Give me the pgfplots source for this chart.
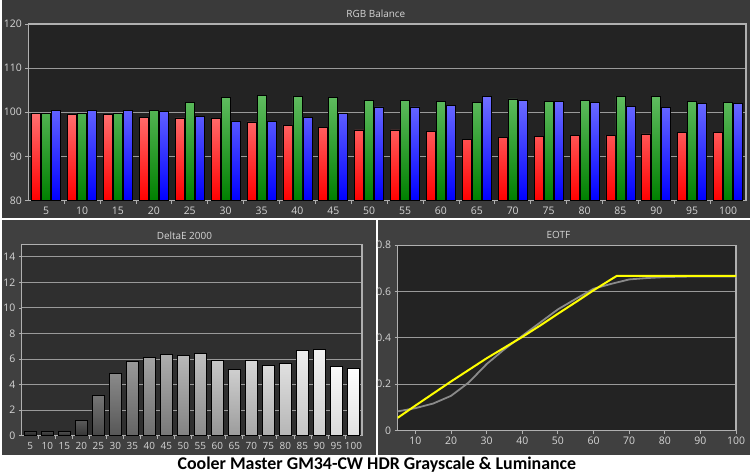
\documentclass[border=0pt]{standalone}
\usepackage{pgfplots}
\usepackage{pgfplotstable}
\pgfplotsset{compat=1.18}
\usepackage{fontspec}
\setmainfont{Open Sans}
\newfontfamily\capfont{Carlito}

\definecolor{topbg}{HTML}{3A3A3A}
\definecolor{botbg}{HTML}{404040}
\definecolor{plotbg}{HTML}{232323}
\definecolor{plotde}{HTML}{2F2F2F}
\definecolor{axisc}{HTML}{B0B0B0}
\definecolor{gridc}{HTML}{9A9A9A}
\definecolor{tickc}{HTML}{D6D6D6}
\definecolor{redtop}{HTML}{FF7070}
\definecolor{redbot}{HTML}{FF0000}
\definecolor{greentop}{HTML}{60BC60}
\definecolor{greenbot}{HTML}{008000}
\definecolor{bluetop}{HTML}{7070FF}
\definecolor{bluebot}{HTML}{0000FF}
\definecolor{eotfgray}{HTML}{8A8A8A}
\definecolor{eotfyellow}{HTML}{FFFF00}

% RGB balance, x = step index (5% steps)
\pgfplotstableread{
x R G B
1 99.8 99.7 100.5
2 99.5 99.7 100.5
3 99.5 99.7 100.5
4 98.9 100.5 100.2
5 98.7 102.3 99.1
6 98.5 103.4 97.9
7 97.8 103.8 97.9
8 97.1 103.6 98.9
9 96.6 103.4 99.7
10 96.0 102.7 101.2
11 96.0 102.7 101.2
12 95.7 102.4 101.5
13 93.9 102.2 103.6
14 94.2 103.0 102.7
15 94.6 102.4 102.4
16 94.8 102.7 102.2
17 94.8 103.6 101.3
18 95.1 103.6 101.1
19 95.5 102.4 102.0
20 95.5 102.2 102.0
}\rgbdata

\pgfplotsset{
  panel/.style={
    scale only axis, anchor=south west,
    axis line style={draw=axisc, line width=1.2bp},
    tick style={draw=axisc, line width=0.8bp},
    tick align=outside, xtick pos=bottom, ytick pos=left,
    major tick length=3bp, minor tick length=3bp,
    tick label style={font=\fontsize{10.5}{12}\selectfont, text=tickc},
    ymajorgrids, grid style={draw=gridc, line width=1bp},
    /pgf/number format/assume math mode=true,
  },
  db/.style 2 args={bar shift=0pt, draw=black, line width=0.8bp,
    top color=white!#1!black, bottom color=white!#2!black},
}

\begin{document}
\begin{tikzpicture}
\fill[white] (0bp,0bp) rectangle (750bp,476bp);
\fill[topbg] (0bp,257.5bp) rectangle (750bp,476bp);
\fill[botbg] (0bp,20bp) rectangle (375bp,255bp);
\fill[botbg] (377.5bp,20bp) rectangle (750bp,255bp);

% RGB Balance
\begin{axis}[panel, at={(26.5bp,275bp)}, width=719.5bp, height=177bp,
  axis background/.style={fill=plotbg},
  xmin=0.5, xmax=20.5, ymin=0, ymax=40,
  y filter/.expression={y-80},
  xtick={1,...,20},
  xticklabels={5,10,15,20,25,30,35,40,45,50,55,60,65,70,75,80,85,90,95,100},
  major x tick style={draw=none},
  minor xtick={1.5,2.5,...,19.5},
  ytick={0,10,20,30,40}, yticklabels={80,90,100,110,120},
  ybar=1bp, bar width=9bp,
]
\addplot[draw=black, line width=0.7bp, top color=redtop, bottom color=redbot] table[x=x,y=R]{\rgbdata};
\addplot[draw=black, line width=0.7bp, top color=greentop, bottom color=greenbot] table[x=x,y=G]{\rgbdata};
\addplot[draw=black, line width=0.7bp, top color=bluetop, bottom color=bluebot] table[x=x,y=B]{\rgbdata};
\end{axis}

% DeltaE 2000
\begin{axis}[panel, at={(20bp,39.3bp)}, width=341bp, height=192bp,
  axis background/.style={fill=plotde},
  xmin=0.5, xmax=20.5, ymin=0, ymax=15,
  xtick={1,...,20},
  xticklabels={5,10,15,20,25,30,35,40,45,50,55,60,65,70,75,80,85,90,95,100},
  xticklabel style={font=\fontsize{10}{11}\selectfont},
  major x tick style={draw=none},
  minor xtick={1.5,2.5,...,19.5},
  ytick={0,2,...,14},
  ybar, bar width=12.5bp,
]
\addplot[db={25}{14}] coordinates {(1,0.31)};
\addplot[db={28}{16}] coordinates {(2,0.31)};
\addplot[db={31}{18}] coordinates {(3,0.31)};
\addplot[db={35}{21}] coordinates {(4,1.18)};
\addplot[db={46}{28}] coordinates {(5,3.17)};
\addplot[db={54}{34}] coordinates {(6,4.87)};
\addplot[db={60}{39}] coordinates {(7,5.81)};
\addplot[db={64}{43}] coordinates {(8,6.12)};
\addplot[db={68}{47}] coordinates {(9,6.36)};
\addplot[db={72}{51}] coordinates {(10,6.28)};
\addplot[db={75}{54}] coordinates {(11,6.44)};
\addplot[db={78}{58}] coordinates {(12,5.89)};
\addplot[db={81}{61}] coordinates {(13,5.18)};
\addplot[db={84}{65}] coordinates {(14,5.89)};
\addplot[db={86}{68}] coordinates {(15,5.50)};
\addplot[db={88}{71}] coordinates {(16,5.65)};
\addplot[db={93}{77}] coordinates {(17,6.67)};
\addplot[db={95}{80}] coordinates {(18,6.75)};
\addplot[db={98}{85}] coordinates {(19,5.42)};
\addplot[db={100}{88}] coordinates {(20,5.26)};
\end{axis}

% EOTF
\begin{axis}[panel, at={(396.7bp,44.3bp)}, width=339.3bp, height=186bp,
  axis background/.style={fill=plotbg},
  xmin=5, xmax=100, ymin=0, ymax=0.8,
  xtick={10,20,...,100},
  ytick={0,0.2,0.4,0.6,0.8}, yticklabels={0,0.2,0.4,0.6,0.8},
]
\addplot[eotfgray, line width=1.8bp, mark=none] coordinates {
  (5,0.083) (10,0.097) (15,0.117) (20,0.150) (25,0.208) (30,0.287)
  (35,0.351) (40,0.409) (45,0.466) (50,0.523) (55,0.568) (60,0.612)
  (65,0.633) (70,0.652) (75,0.658) (80,0.662) (85,0.664) (90,0.665)
  (95,0.665) (100,0.665)};
\addplot[eotfyellow, line width=2bp, mark=none] coordinates {
  (5,0.055) (10,0.108) (15,0.160) (20,0.212) (25,0.262) (30,0.312)
  (35,0.358) (40,0.404) (45,0.453) (50,0.504) (55,0.554) (60,0.605)
  (65,0.653) (66.5,0.667) (100,0.667)};
\end{axis}

\node[text=tickc, font=\fontsize{10}{12}\selectfont] at (375bp,462bp) {RGB Balance};
\node[text=tickc, font=\fontsize{10}{12}\selectfont] at (183bp,240bp) {DeltaE 2000};
\node[text=tickc, font=\fontsize{10}{12}\selectfont] at (558bp,240bp) {EOTF};
\node[text=black, font=\capfont\bfseries\fontsize{18}{20}\selectfont] at (376bp,10bp) {Cooler Master GM34-CW HDR Grayscale \& Luminance};
\end{tikzpicture}
\end{document}
